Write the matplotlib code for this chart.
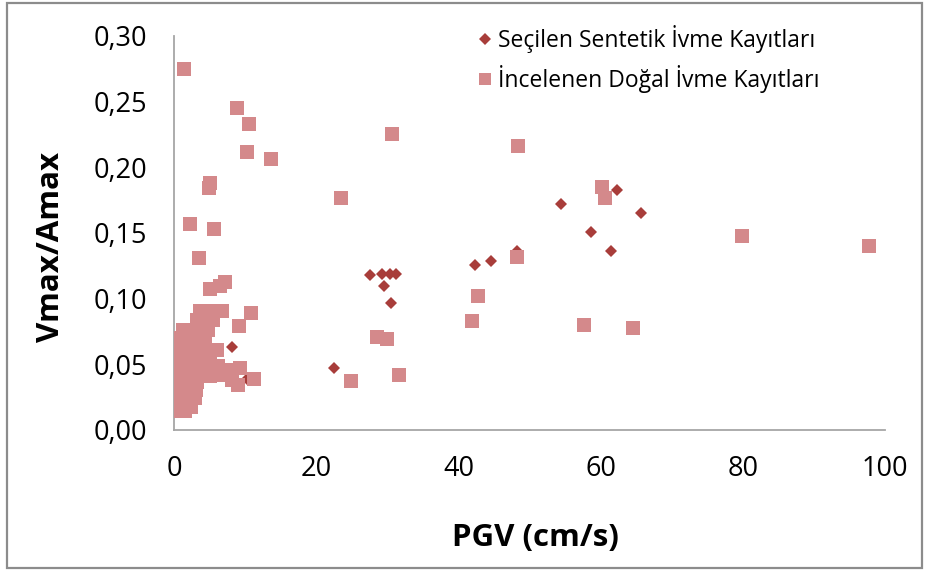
import matplotlib
matplotlib.use("Agg")
import matplotlib.pyplot as plt
from matplotlib.ticker import FuncFormatter
from matplotlib.lines import Line2D
from matplotlib.patches import Rectangle

plt.rcParams['font.family'] = ['Open Sans', 'DejaVu Sans']

# Selected synthetic records (PGV in cm/s, Vmax/Amax in s)
synth_pgv = [8.2, 10.3, 22.5, 27.6, 29.2, 30.4, 31.2, 29.6, 30.5,
             42.4, 44.6, 48.3, 54.5, 62.3, 65.7, 58.6, 61.4]
synth_ratio = [0.063, 0.039, 0.047, 0.118, 0.119, 0.119, 0.119, 0.110, 0.097,
               0.126, 0.129, 0.136, 0.172, 0.183, 0.165, 0.151, 0.136]

# Examined natural records
natural_pgv = [
    1.45, 8.86, 10.6, 10.3, 13.7, 5.1, 4.9, 2.2, 5.6, 3.5,
    7.2, 6.5, 5.0, 10.8, 9.1, 6.0,
    9.3, 8.1, 11.2, 9.0, 8.1, 5.1, 6.2, 5.1, 6.2,
    30.7, 48.4, 23.5, 48.3, 42.8, 41.9, 28.5, 30.0, 24.9, 31.6,
    60.2, 60.6, 79.9, 97.8, 57.6, 64.6,
    3.6, 4.6, 5.8, 6.7,
    3.2, 4.4, 5.5,
    1.3, 2.5, 3.7, 4.8,
    0.84, 2.0, 3.2, 4.4,
    0.6, 1.8, 3.0, 4.1,
    0.6, 1.5, 2.7, 3.9, 5.1,
    0.14, 1.3, 2.5, 3.7, 4.8,
    0.4, 1.8, 3.0, 4.6,
    0.1, 1.1, 2.2, 3.2,
    0.2, 1.1, 2.2, 3.1,
    0.1, 1.1, 2.2, 3.0,
    0.1, 1.2, 2.4,
    0.4, 1.5,
]
natural_ratio = [
    0.275, 0.245, 0.233, 0.212, 0.206, 0.188, 0.184, 0.157, 0.153, 0.131,
    0.113, 0.110, 0.107, 0.089, 0.079, 0.061,
    0.047, 0.046, 0.039, 0.034, 0.038, 0.051, 0.049, 0.041, 0.042,
    0.225, 0.216, 0.177, 0.132, 0.102, 0.083, 0.071, 0.069, 0.037, 0.042,
    0.185, 0.177, 0.148, 0.140, 0.080, 0.078,
    0.0906, 0.0906, 0.0906, 0.0906,
    0.0837, 0.0837, 0.0837,
    0.0761, 0.0761, 0.0761, 0.0761,
    0.0698, 0.0698, 0.0698, 0.0698,
    0.0634, 0.0634, 0.0634, 0.0634,
    0.0558, 0.0558, 0.0558, 0.0558, 0.0558,
    0.0495, 0.0495, 0.0495, 0.0495, 0.0495,
    0.0431, 0.0431, 0.0431, 0.0431,
    0.0368, 0.0368, 0.0368, 0.0368,
    0.0304, 0.0304, 0.0304, 0.0304,
    0.0241, 0.0241, 0.0241, 0.0241,
    0.0178, 0.0178, 0.0178,
    0.0142, 0.0142,
]

x_ticks = [0, 20, 40, 60, 80, 100]
y_ticks = [0.00, 0.05, 0.10, 0.15, 0.20, 0.25, 0.30]

synth_label = "Seçilen Sentetik İvme Kayıtları"
natural_label = "İncelenen Doğal İvme Kayıtları"

synth_color = "#A83D3A"
natural_color = "#D4898B"
axis_color = "#A6A6A6"

fig = plt.figure(figsize=(9.29, 5.74), dpi=100)
fig.patches.append(Rectangle((0.008, 0.010), 0.984, 0.984, transform=fig.transFigure,
                             fill=False, edgecolor="#8C8C8C", linewidth=1.6))

ax = fig.add_axes([0.1873, 0.2509, 0.7653, 0.6864])

ax.plot(synth_pgv, synth_ratio, linestyle="none", marker="D", markersize=6.6,
        color=synth_color, markeredgewidth=0, zorder=2)
ax.plot(natural_pgv, natural_ratio, linestyle="none", marker="s", markersize=10,
        color=natural_color, markeredgewidth=0, zorder=3)

ax.set_xlim(0, 100)
ax.set_ylim(0, 0.30)
ax.set_xticks(x_ticks)
ax.set_yticks(y_ticks)
ax.yaxis.set_major_formatter(FuncFormatter(lambda v, p: f"{v:.2f}".replace(".", ",")))
ax.tick_params(axis="both", length=0, labelsize=19.5, colors="#000000")
ax.tick_params(axis="y", pad=19)
ax.tick_params(axis="x", pad=18)

for side in ("top", "right"):
    ax.spines[side].set_visible(False)
for side in ("left", "bottom"):
    ax.spines[side].set_color(axis_color)
    ax.spines[side].set_linewidth(1.3)

ax.set_xlabel("PGV (cm/s)", fontsize=22.5, fontweight="bold", labelpad=29)
ax.set_ylabel("Vmax/Amax", fontsize=22.5, fontweight="bold", labelpad=20)
ax.xaxis.label.set_x(0.509)
ax.yaxis.label.set_y(0.464)

handles = [
    Line2D([], [], linestyle="none", marker="D", markersize=6.0, color=synth_color,
           markeredgewidth=0, label=synth_label),
    Line2D([], [], linestyle="none", marker="s", markersize=8.5, color=natural_color,
           markeredgewidth=0, label=natural_label),
]
ax.legend(handles=handles, loc="upper left", bbox_to_anchor=(0.415, 1.05), frameon=False,
          fontsize=16.5, handlelength=0.6, handletextpad=0.25, labelspacing=0.5,
          borderaxespad=0)

fig.savefig("out.png", dpi=100)
